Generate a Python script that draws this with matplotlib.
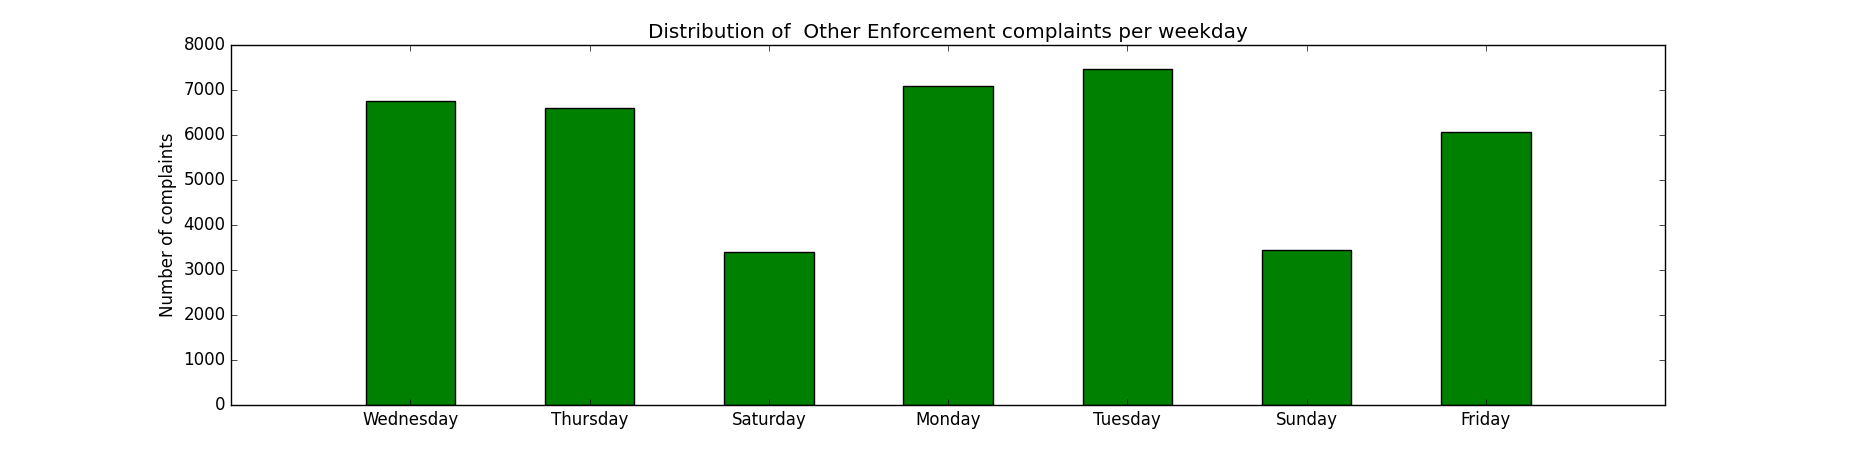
import matplotlib
matplotlib.use("Agg")
import matplotlib.pyplot as plt

plt.style.use('classic')

days = ["Wednesday", "Thursday", "Saturday", "Monday", "Tuesday", "Sunday", "Friday"]
counts = [6756, 6593, 3400, 7082, 7459, 3437, 6059]

fig = plt.figure(figsize=(18.5, 4.5), dpi=100)
ax = fig.add_subplot(111)
fig.subplots_adjust(left=0.125, right=0.9, bottom=0.1, top=0.9)

x = list(range(len(days)))
ax.bar(x, counts, width=0.5, color='g', edgecolor='k', linewidth=1, align='center')
ax.set_xticks(x)
ax.set_xticklabels(days, rotation=0)
ax.set_xlim(-1, len(days))
ax.set_ylim(0, 8000)
ax.set_ylabel("Number of complaints")
ax.set_title("Distribution of  Other Enforcement complaints per weekday")

fig.savefig("out.png", dpi=100, facecolor='white')
